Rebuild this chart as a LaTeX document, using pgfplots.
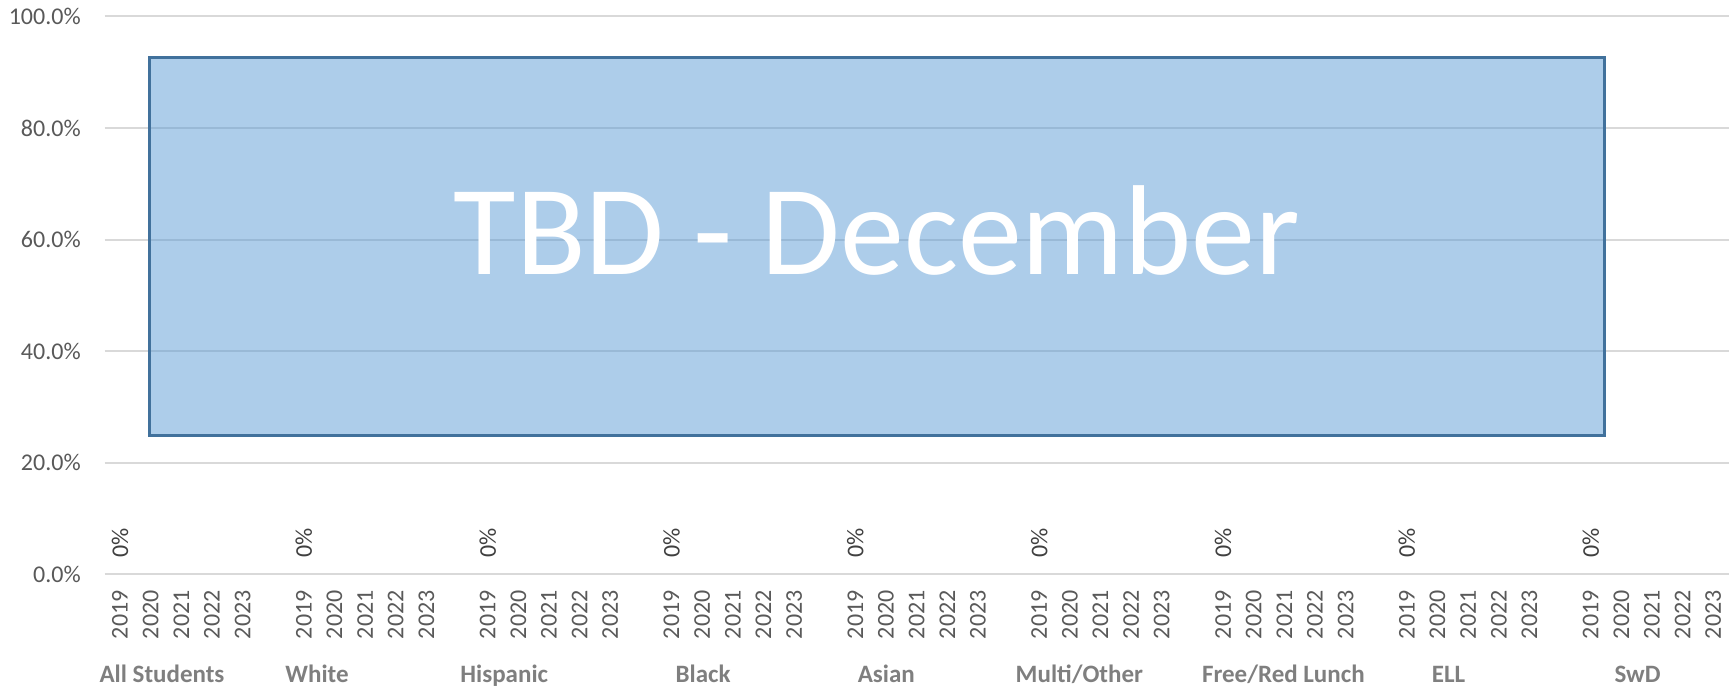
\documentclass[border=0pt]{standalone}
\usepackage{fontspec}
\setmainfont{Carlito}
\usepackage{pgfplots}
\pgfplotsset{compat=1.18}
\definecolor{gridc}{HTML}{D9D9D9}
\definecolor{tickc}{HTML}{595959}
\definecolor{grpc}{HTML}{7F7F7F}
\definecolor{labc}{HTML}{404040}
\definecolor{boxfill}{HTML}{5B9BD5}
\definecolor{boxline}{HTML}{41719C}
\tikzset{grp/.style={text=grpc, font=\fontsize{12.5}{14}\selectfont\bfseries, anchor=base, yshift=-54pt}}
\begin{document}
\begin{tikzpicture}
\begin{axis}[
  scale only axis, width=811.95pt, height=278.75pt,
  xmin=-0.5, xmax=52.5, ymin=0, ymax=100,
  clip=false,
  axis line style={draw=none},
  major tick length=0pt,
  ymajorgrids, grid style={gridc, line width=1pt},
  ytick={0,20,40,60,80,100},
  yticklabels={0.0\%,20.0\%,40.0\%,60.0\%,80.0\%,100.0\%},
  yticklabel style={font=\fontsize{12}{14}\selectfont, text=tickc, inner sep=0pt},
  yticklabel shift=11.8pt,
  xtick={0,1,2,3,4,6,7,8,9,10,12,13,14,15,16,18,19,20,21,22,24,25,26,27,28,30,31,32,33,34,36,37,38,39,40,42,43,44,45,46,48,49,50,51,52},
  xticklabels={2019,2020,2021,2022,2023,2019,2020,2021,2022,2023,2019,2020,2021,2022,2023,2019,2020,2021,2022,2023,2019,2020,2021,2022,2023,2019,2020,2021,2022,2023,2019,2020,2021,2022,2023,2019,2020,2021,2022,2023,2019,2020,2021,2022,2023},
  xticklabel style={rotate=90, anchor=east, font=\fontsize{12}{14}\selectfont, text=tickc, inner sep=0pt},
  xticklabel shift=8pt,
  /pgf/number format/assume math mode=true,
]
\addplot[draw=none, mark=none, nodes near coords={0\%},
  every node near coord/.append style={rotate=90, anchor=west, inner xsep=8pt, inner ysep=0pt,
    font=\fontsize{12}{14}\selectfont, text=labc}]
  coordinates {(0,0) (6,0) (12,0) (18,0) (24,0) (30,0) (36,0) (42,0) (48,0)};
\addplot[fill=boxfill, fill opacity=0.5, draw=boxline, line width=1.5pt]
  coordinates {(0.947,24.8) (48.45,24.8) (48.45,92.6) (0.947,92.6)} -- cycle;
\node[text=white, font=\fontsize{64}{64}\selectfont, anchor=base] at (axis cs:24.7,53.8) {TBD - December};
\node[grp] at (axis cs:1.37,0) {All Students};
\node[grp] at (axis cs:6.43,0) {White};
\node[grp] at (axis cs:12.54,0) {Hispanic};
\node[grp] at (axis cs:19.03,0) {Black};
\node[grp] at (axis cs:25.01,0) {Asian};
\node[grp] at (axis cs:31.31,0) {Multi/Other};
\node[grp] at (axis cs:37.97,0) {Free/Red Lunch};
\node[grp] at (axis cs:43.36,0) {ELL};
\node[grp] at (axis cs:49.53,0) {SwD};
\end{axis}
\pgfresetboundingbox
\path[use as bounding box] (-52.35pt,-56pt) rectangle (813.65pt,287pt);
\end{tikzpicture}
\end{document}
